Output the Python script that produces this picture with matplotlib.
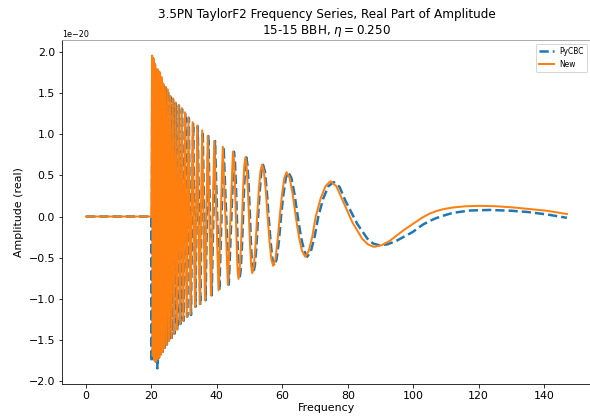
import numpy as np
import matplotlib
matplotlib.use("Agg")
import matplotlib.pyplot as plt

# values, amplitude in units of 1e-20
freq_pycbc = [0.0, 19.95, 20.05, 20.25, 20.45, 20.65, 20.88, 21.1, 21.33, 21.55, 21.8, 22.05,
              22.3, 22.55, 22.83, 23.1, 23.4, 23.7, 24.03, 24.36, 24.71, 25.06, 25.41, 25.77,
              26.17, 26.57, 27.0, 27.43, 27.9, 28.38, 28.87, 29.34, 29.85, 30.35, 30.9, 31.42,
              32.08, 32.74, 33.44, 34.15, 34.9, 35.67, 36.53, 37.39, 38.4, 39.42, 40.74, 42.06,
              43.63, 45.2, 45.5, 45.8, 46.1, 46.37, 46.63, 46.9, 47.27, 47.63, 48.0, 48.33,
              48.67, 49.0, 49.37, 49.73, 50.1, 50.43, 50.77, 51.1, 51.6, 52.1, 52.6, 53.1,
              53.6, 54.1, 54.67, 55.23, 55.8, 56.4, 56.97, 57.55, 58.25, 58.95, 59.6, 60.33,
              61.07, 61.8, 62.77, 63.73, 64.7, 65.7, 66.7, 67.6, 68.75, 69.85, 71.0, 72.5,
              74.1, 75.7, 77.5, 79.3, 82.9, 86.0, 87.8, 89.6, 92.0, 94.7, 99.8, 102.9,
              105.0, 107.0, 109.6, 112.2, 117.3, 123.5, 130.0, 135.0, 140.9, 147.0]
amp_pycbc = [0.0, 0.0, -1.77, 1.95, -1.70, 1.92, -1.75, 1.85, -1.77, 1.79, -1.85, 1.77,
             -1.72, 1.75, -1.69, 1.69, -1.65, 1.61, -1.60, 1.57, -1.56, 1.54, -1.52, 1.46,
             -1.48, 1.43, -1.43, 1.38, -1.38, 1.35, -1.31, 1.31, -1.27, 1.26, -1.22, 1.20,
             -1.20, 1.14, -1.10, 1.10, -1.08, 1.04, -1.02, 0.98, -0.96, 0.92, -0.90, 0.85,
             -0.83, 0.79, 0.68, 0.40, 0.0, -0.38, -0.66, -0.76, -0.66, -0.38, 0.0, 0.36,
             0.62, 0.72, 0.62, 0.36, 0.0, -0.35, -0.60, -0.69, -0.60, -0.35, 0.0, 0.32,
             0.55, 0.63, 0.55, 0.32, 0.0, -0.30, -0.52, -0.60, -0.52, -0.30, 0.0, 0.27,
             0.47, 0.54, 0.47, 0.27, 0.0, -0.25, -0.42, -0.49, -0.42, -0.25, 0.0, 0.22,
             0.37, 0.42, 0.36, 0.19, -0.09, -0.27, -0.33, -0.35, -0.34, -0.30, -0.19, -0.10,
             -0.055, -0.02, 0.015, 0.045, 0.073, 0.08, 0.07, 0.055, 0.025, -0.016]

freq_new = [0.0, 19.95, 20.2, 20.4, 20.6, 20.83, 21.05, 21.28, 21.5, 21.75, 22.0, 22.25,
            22.5, 22.78, 23.05, 23.35, 23.65, 23.98, 24.3, 24.65, 25.0, 25.35, 25.7, 26.1,
            26.5, 26.92, 27.35, 27.82, 28.3, 28.78, 29.25, 29.75, 30.25, 30.78, 31.3, 31.95,
            32.6, 33.3, 34.0, 34.75, 35.5, 36.35, 37.2, 38.2, 39.2, 40.5, 41.8, 43.35,
            44.9, 45.2, 45.5, 45.8, 46.07, 46.33, 46.6, 46.97, 47.33, 47.7, 48.03, 48.37,
            48.7, 49.07, 49.43, 49.8, 50.13, 50.47, 50.8, 51.3, 51.8, 52.3, 52.8, 53.3,
            53.8, 54.37, 54.93, 55.5, 56.07, 56.63, 57.2, 57.87, 58.53, 59.2, 59.9, 60.6,
            61.3, 62.23, 63.17, 64.1, 65.07, 66.03, 67.0, 68.07, 69.13, 70.2, 71.7, 73.2,
            74.7, 76.5, 78.4, 81.4, 84.4, 86.2, 88.0, 90.3, 92.7, 97.3, 102.9, 105.0,
            107.2, 109.6, 112.2, 116.0, 120.4, 125.5, 130.7, 135.8, 140.9, 147.0]
amp_new = [0.0, 0.0, 1.96, -1.70, 1.93, -1.75, 1.86, -1.77, 1.80, -1.74, 1.79, -1.72,
           1.76, -1.69, 1.70, -1.65, 1.62, -1.60, 1.58, -1.56, 1.55, -1.52, 1.47, -1.48,
           1.44, -1.43, 1.39, -1.38, 1.36, -1.31, 1.32, -1.27, 1.27, -1.22, 1.21, -1.19,
           1.15, -1.10, 1.11, -1.07, 1.05, -1.02, 0.98, -0.96, 0.92, -0.90, 0.85, -0.83,
           0.79, 0.68, 0.40, 0.0, -0.38, -0.66, -0.76, -0.66, -0.38, 0.0, 0.36, 0.62,
           0.72, 0.62, 0.36, 0.0, -0.35, -0.60, -0.69, -0.60, -0.35, 0.0, 0.32, 0.55,
           0.63, 0.55, 0.32, 0.0, -0.30, -0.52, -0.60, -0.52, -0.30, 0.0, 0.27, 0.47,
           0.54, 0.47, 0.27, 0.0, -0.25, -0.42, -0.49, -0.42, -0.25, 0.0, 0.22, 0.37,
           0.43, 0.37, 0.20, -0.07, -0.27, -0.34, -0.37, -0.35, -0.30, -0.16, -0.01, 0.035,
           0.068, 0.093, 0.11, 0.125, 0.13, 0.125, 0.11, 0.09, 0.07, 0.03]

scale = 1e-20

fig = plt.figure(figsize=(590 / 72, 417 / 72), dpi=72)
ax = fig.add_axes([62 / 590, 33 / 417, 529 / 590, 344 / 417])

ax.plot(freq_pycbc, np.array(amp_pycbc) * scale, '--', color='#1f77b4', lw=2.5, label='PyCBC')
ax.plot(freq_new, np.array(amp_new) * scale, '-', color='#ff7f0e', lw=2, label='New')

ax.set_title('3.5PN TaylorF2 Frequency Series, Real Part of Amplitude\n'
             r'15-15 BBH, $\eta = 0.250$', fontsize=12)
ax.set_xlabel('Frequency', fontsize=11, labelpad=2)
ax.set_ylabel('Amplitude (real)', fontsize=11)
ax.tick_params(labelsize=11)
ax.yaxis.get_offset_text().set_fontsize(8)
ax.spines['right'].set_visible(False)
ax.spines['top'].set_color('#999999')
ax.legend(loc='upper right', fontsize=7.5)

fig.savefig('out.png', dpi=72)
